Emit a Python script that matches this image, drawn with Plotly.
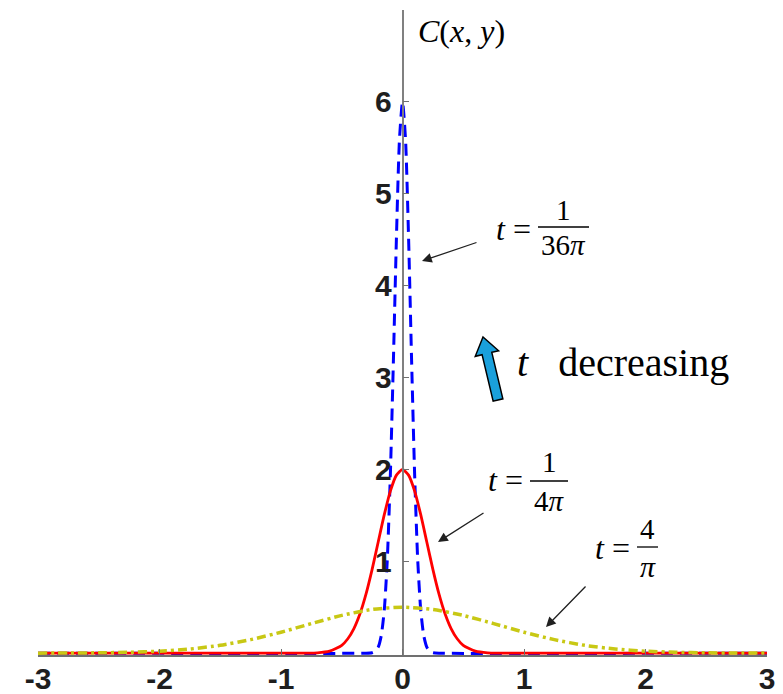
import plotly.graph_objects as go
import math

# ---------------- data ----------------
x_blue = [-3.0, -0.3, -0.25, -0.225, -0.2, -0.175, -0.15, -0.125, -0.1, -0.075, -0.05, -0.025, 0.0,
          0.025, 0.05, 0.075, 0.1, 0.125, 0.15, 0.175, 0.2, 0.225, 0.25, 0.3, 3.0]
y_blue = [0.0, 0.0, 0.005, 0.02, 0.065, 0.19, 0.47, 1.02, 1.94, 3.18, 4.52, 5.59, 6.0,
          5.59, 4.52, 3.18, 1.94, 1.02, 0.47, 0.19, 0.065, 0.02, 0.005, 0.0, 0.0]

x_red = [-3.0, -0.9, -0.8, -0.7, -0.6, -0.5, -0.45, -0.4, -0.35, -0.3, -0.25, -0.2, -0.15, -0.1, -0.05, 0.0,
         0.05, 0.1, 0.15, 0.2, 0.25, 0.3, 0.35, 0.4, 0.45, 0.5, 0.6, 0.7, 0.8, 0.9, 3.0]
y_red = [0.0, 0.0, 0.001, 0.004, 0.022, 0.086, 0.157, 0.268, 0.429, 0.645, 0.912, 1.21, 1.507, 1.764, 1.938, 2.0,
         1.938, 1.764, 1.507, 1.21, 0.912, 0.645, 0.429, 0.268, 0.157, 0.086, 0.022, 0.004, 0.001, 0.0, 0.0]

x_yel = [-3.0, -2.75, -2.5, -2.25, -2.0, -1.75, -1.5, -1.25, -1.0, -0.75, -0.5, -0.25, 0.0,
         0.25, 0.5, 0.75, 1.0, 1.25, 1.5, 1.75, 2.0, 2.25, 2.5, 2.75, 3.0]
y_yel = [0.0004, 0.0013, 0.0037, 0.0094, 0.0216, 0.045, 0.085, 0.147, 0.228, 0.322, 0.411, 0.476, 0.5,
         0.476, 0.411, 0.322, 0.228, 0.147, 0.085, 0.045, 0.0216, 0.0094, 0.0037, 0.0013, 0.0004]

x_ticks = [-3, -2, -1, 0, 1, 2, 3]
x_ticktext = ["-3", "-2", "-1", "0", "1", "2", "3"]
y_ticks = [1, 2, 3, 4, 5, 6, 7]
y_ticktext = ["1", "2", "3", "4", "5", "6", ""]

# ---------------- layout geometry ----------------
W, H = 783, 694
ML, MR, MT, MB = 38, 16, 10, 39
XR = [-3, 3]
YR = [-0.02, 7]
PW = W - ML - MR
PH = H - MT - MB


def p2d(xp, yp):
    """pixel -> data coordinates"""
    x = XR[0] + (xp - ML) / PW * (XR[1] - XR[0])
    y = YR[1] - (yp - MT) / PH * (YR[1] - YR[0])
    return x, y


fig = go.Figure()
fig.add_trace(go.Scatter(x=x_blue, y=y_blue, mode="lines",
                         line=dict(color="#0000ff", width=3, dash="12px,7px", shape="spline", smoothing=0.6)))
fig.add_trace(go.Scatter(x=x_red, y=y_red, mode="lines",
                         line=dict(color="#ff0000", width=2.8, shape="spline", smoothing=0.6)))
fig.add_trace(go.Scatter(x=x_yel, y=y_yel, mode="lines",
                         line=dict(color="#c8c814", width=3.5, dash="9px,4px,3px,4px", shape="spline", smoothing=0.6)))

tickfont = dict(family="Liberation Sans Narrow, Arial Narrow, Liberation Sans, Arial", size=30, color="#1e1e1e")

fig.update_layout(
    width=W, height=H,
    margin=dict(l=ML, r=MR, t=MT, b=MB, pad=0, autoexpand=False),
    paper_bgcolor="white", plot_bgcolor="white",
    showlegend=False,
    xaxis=dict(range=XR, tickvals=x_ticks, ticktext=["<b>%s</b>" % t for t in x_ticktext],
               ticks="inside", ticklen=6, automargin=False,
               tickcolor="#707070", showline=True, linecolor="#707070", linewidth=1.5,
               showgrid=False, zeroline=False, tickfont=tickfont, ticklabelstandoff=-4),
    yaxis=dict(range=YR, tickvals=y_ticks, ticktext=["<b>%s</b>" % t if t else "" for t in y_ticktext],
               ticks="inside", ticklen=6, automargin=False,
               tickcolor="#707070", showline=True, linecolor="#808080", linewidth=1.5,
               showgrid=False, zeroline=False, anchor="free", position=0.5, side="left",
               tickfont=tickfont, ticklabelstandoff=4),
)

serif = "Liberation Serif, Times New Roman, serif"
annos = []


def text_at(xp, yp, txt, size, xanchor="center"):
    x, y = p2d(xp, yp)
    annos.append(dict(x=x, y=y, xref="x", yref="y", text=txt, showarrow=False, borderpad=0,
                      xanchor=xanchor, yanchor="middle", font=dict(family=serif, size=size, color="black")))


def frac_line(x0p, x1p, yp):
    x0, y0 = p2d(x0p, yp)
    x1, y1 = p2d(x1p, yp)
    fig.add_shape(type="line", x0=x0, y0=y0, x1=x1, y1=y1, xref="x", yref="y",
                  line=dict(color="black", width=1.3))


def arrow(headx, heady, tailx, taily):
    x, y = p2d(headx, heady)
    annos.append(dict(x=x, y=y, xref="x", yref="y", text="", showarrow=True,
                      ax=tailx - headx, ay=taily - heady, arrowhead=2, arrowsize=1.5,
                      arrowwidth=1.3, arrowcolor="#202020"))


# C(x, y)
text_at(461, 31, "<i>C</i>(<i>x</i>, <i>y</i>)", 32)

# t = 1/(36 pi)
text_at(532, 229, "<i>t</i> =", 32, "right")
frac_line(538, 589, 227)
text_at(563, 210, "1", 29)
text_at(563, 245, "36<i>π</i>", 29)
arrow(422, 261, 478, 242)

# t decreasing
text_at(623, 362, "<i>t</i>&nbsp;&nbsp; decreasing", 40)

# t = 1/(4 pi)
text_at(524, 480, "<i>t</i> =", 32, "right")
frac_line(530, 568, 481)
text_at(549, 462, "1", 29)
text_at(549, 501, "4<i>π</i>", 29)
arrow(438, 542, 485, 512)

# t = 4/pi
text_at(631, 548, "<i>t</i> =", 32, "right")
frac_line(637, 658, 547)
text_at(647, 529, "4", 29)
text_at(648, 566, "<i>π</i>", 30)
arrow(546, 627, 587, 585)

fig.update_layout(annotations=annos)

# fat blue arrow (t decreasing)
tail = (498.0, 400.0)
tip = (483.0, 337.0)
dx, dy = tip[0] - tail[0], tip[1] - tail[1]
L = math.hypot(dx, dy)
ux, uy = dx / L, dy / L
nx, ny = -uy, ux
bw, hw, hl = 5.0, 12.0, 17.0
neck = (tip[0] - ux * hl, tip[1] - uy * hl)
pts_px = [
    (tail[0] - nx * bw, tail[1] - ny * bw),
    (neck[0] - nx * bw, neck[1] - ny * bw),
    (neck[0] - nx * hw, neck[1] - ny * hw),
    tip,
    (neck[0] + nx * hw, neck[1] + ny * hw),
    (neck[0] + nx * bw, neck[1] + ny * bw),
    (tail[0] + nx * bw, tail[1] + ny * bw),
]
pts = [p2d(a, b) for a, b in pts_px]
path = "M " + " L ".join("%f,%f" % p for p in pts) + " Z"
fig.add_shape(type="path", path=path, xref="x", yref="y",
              fillcolor="#1aa0dc", line=dict(color="black", width=1.5))

fig.write_html("out.html", config={"displayModeBar": False},
               post_script="document.body.style.margin='0px';document.body.style.padding='0px';")
